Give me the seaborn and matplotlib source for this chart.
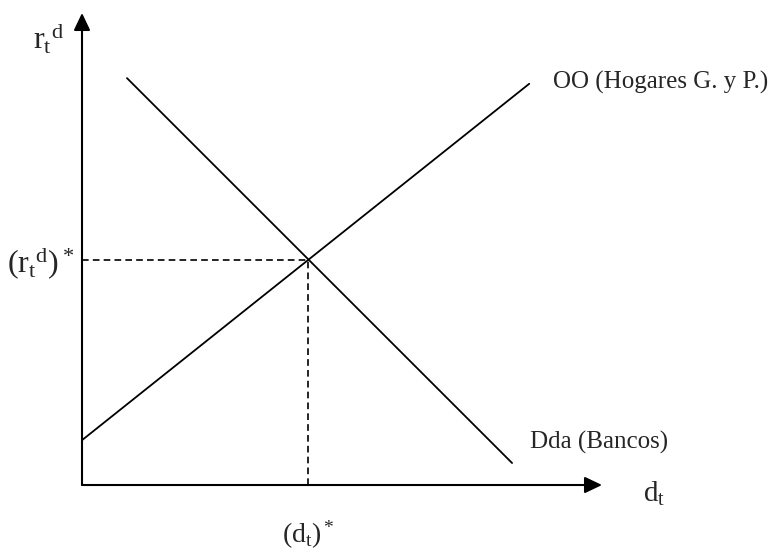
import numpy as np
import pandas as pd
import matplotlib
matplotlib.use('Agg')
import matplotlib.pyplot as plt
import seaborn as sns

# Deposit market: supply by households (OO) and demand by banks (Dda)
supply_d = [0.0, 8.6]      # deposits d_t
supply_r = [0.95, 8.5]     # deposit rate r_t^d
demand_d = [0.865, 8.27]
demand_r = [8.62, 0.466]
eq_d, eq_r = 4.35, 4.77    # equilibrium (d_t)*, (r_t^d)*

sns.set_style('white')
plt.rcParams['font.family'] = ['Liberation Serif', 'DejaVu Serif']
plt.rcParams['mathtext.fontset'] = 'custom'
plt.rcParams['mathtext.rm'] = 'Liberation Serif'
plt.rcParams['mathtext.it'] = 'Liberation Serif'

fig = plt.figure(figsize=(7.73, 5.51), dpi=100)
ax = fig.add_axes([0, 0, 1, 1])
ax.set_xlim(-1.577, 13.288)
ax.set_ylim(-1.398, 10.275)
ax.axis('off')

lines = pd.DataFrame({
    'd': supply_d + demand_d,
    'r': supply_r + demand_r,
    'curve': ['OO'] * 2 + ['Dda'] * 2,
})
sns.lineplot(data=lines, x='d', y='r', hue='curve', palette=['black', 'black'],
             linewidth=1.3, legend=False, ax=ax, sort=False)

# axes with arrow heads
arrow = dict(arrowstyle='-|>,head_length=1.05,head_width=0.5', color='black',
             lw=1.5, mutation_scale=10, shrinkA=0, shrinkB=0)
ax.annotate('', xy=(10.0, 0), xytext=(0, 0), arrowprops=arrow)
ax.annotate('', xy=(0, 10.0), xytext=(0, 0), arrowprops=arrow)

# equilibrium guides
ax.plot([0, eq_d], [eq_r, eq_r], color='black', lw=1.2, ls=(0, (4, 2.5)))
ax.plot([eq_d, eq_d], [0, eq_r], color='black', lw=1.2, ls=(0, (4, 2.5)))

ax.text(-0.94, 9.45, r'${\mathrm{r}_\mathrm{t}}^{\mathrm{d}}$', fontsize=23,
        ha='left', va='center')
ax.text(-0.14, 4.70, r'$({\mathrm{r}_\mathrm{t}}^{\mathrm{d}})^*$', fontsize=23,
        ha='right', va='center')
ax.text(eq_d, -1.06, r'$(\mathrm{d}_\mathrm{t})^*$', fontsize=20,
        ha='center', va='center')
ax.text(10.79, -0.19, r'$\mathrm{d}_\mathrm{t}$', fontsize=21,
        ha='left', va='center')
ax.text(9.06, 8.52, 'OO (Hogares G. y P.)', fontsize=18, ha='left', va='center')
ax.text(8.62, 0.91, 'Dda (Bancos)', fontsize=18, ha='left', va='center')

fig.savefig('out.png', dpi=100)
